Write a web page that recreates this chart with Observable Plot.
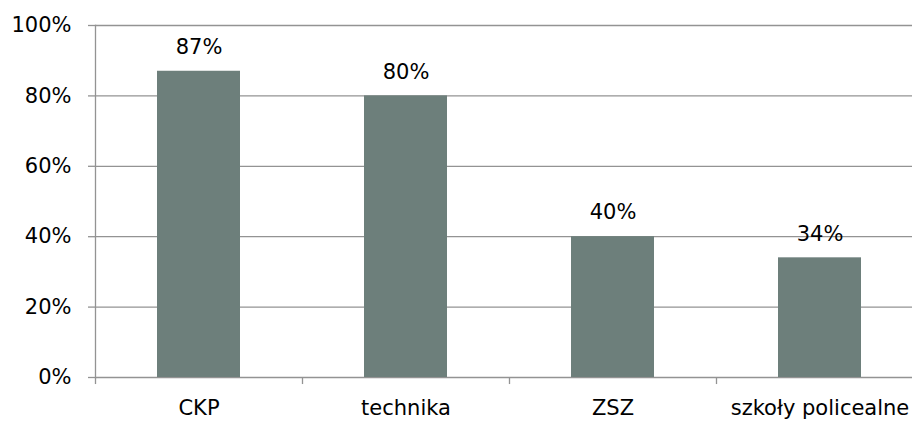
<!DOCTYPE html>
<html><head><meta charset="utf-8">
<script src="https://cdn.jsdelivr.net/npm/d3@7"></script>
<script src="https://cdn.jsdelivr.net/npm/@observablehq/plot@0.6"></script>
<style>
html,body{margin:0;padding:0;background:#fff;}
svg{display:block;}
</style></head>
<body><div id="chart"></div>
<script>
const categories = ["CKP", "technika", "ZSZ", "szkoły policealne"];
const values = [87, 80, 40, 34];
const yTicks = [0, 20, 40, 60, 80, 100];

const data = categories.map((c, i) => ({category: c, value: values[i]}));
const font = "'DejaVu Sans', Verdana, sans-serif";
const gray = "#939393";

const chart = Plot.plot({
  width: 912,
  height: 421,
  marginLeft: 95,
  marginTop: 25,
  marginBottom: 44,
  marginRight: 0,
  style: {fontFamily: font, fontSize: "21px", color: "#000", background: "#fff", overflow: "visible"},
  x: {domain: categories, range: [95, 923], paddingInner: 0.6, paddingOuter: 0.3, align: 0.5, label: null},
  y: {domain: [0, 100], label: null},
  marks: [
    Plot.gridY(yTicks, {stroke: gray, strokeOpacity: 1, strokeWidth: 1.3}),
    Plot.barY(data, {x: "category", y: "value", fill: "#6d7f7b"}),
    Plot.axisY(yTicks, {tickFormat: d => d + "%", tickSize: 7, tickPadding: 17, stroke: gray, strokeWidth: 1.3, fontSize: 21, label: null}),
    Plot.frame({anchor: "left", stroke: gray, strokeWidth: 1.3}),
    Plot.ruleX(categories, {x: d => d, dx: -103.5, y1: 0, y2: -2, stroke: gray, strokeWidth: 1.3}),
    Plot.axisX({tickSize: 0, tickPadding: 23, fontSize: 21, label: null}),
    Plot.text(data, {x: "category", y: "value", text: d => d.value + "%", dy: -24, fontSize: 21, fill: "#000"})
  ]
});
document.getElementById("chart").appendChild(chart);
</script></body></html>
